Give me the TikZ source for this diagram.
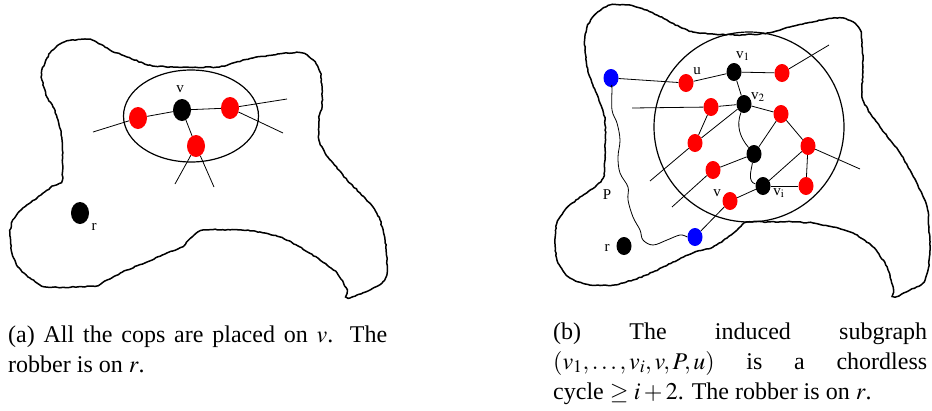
\documentclass[tikz,border=0pt]{standalone}
\usepackage{mathptmx}
\usepackage{fontspec}
\setmainfont{Liberation Serif}
\usetikzlibrary{shapes.geometric, positioning, decorations.pathmorphing}

\begin{document}
\begin{tikzpicture}[
    x=1pt, y=-1pt,
    blob/.style={
        draw=black, line width=1.5pt,
        decorate, decoration={random steps, segment length=2.5pt, amplitude=0.5pt}
    },
    ring/.style={draw=black, line width=1.2pt},
    edge/.style={draw=black, line width=0.8pt},
    cop/.style={ellipse, fill=red, inner sep=0pt, minimum width=18pt, minimum height=22pt},
    rob/.style={ellipse, fill=black, inner sep=0pt, minimum width=18pt, minimum height=22pt},
    copb/.style={cop, minimum width=15pt, minimum height=18pt},
    vtx/.style={rob, minimum width=15pt, minimum height=18pt},
    endpt/.style={ellipse, fill=blue, inner sep=0pt, minimum width=15pt, minimum height=18pt},
    lbl/.style={font=\fontsize{15}{17}\selectfont, inner sep=0pt},
    capt/.style={anchor=base west, inner sep=0pt, align=justify,
        font=\fontsize{24}{30}\selectfont}
]
\pgfmathsetseed{7}
\useasboundingbox (0,0) rectangle (932,410);

%% ── (a) Region ───────────────────────────────────────────────────────────────
\draw[blob] plot[smooth cycle, tension=0.4] coordinates {
    (42,70) (50,53) (62,43) (73,40) (92,40) (110,50) (127,57) (143,63) (153,66)
    (173,67) (217,67) (233,63) (253,58) (273,55) (287,53) (302,53) (313,60)
    (320,72) (322,87) (322,107) (319,117) (319,140) (325,153) (333,163) (347,180)
    (360,193) (373,207) (380,220) (385,240) (387,260) (387,273) (382,283)
    (370,290) (357,295) (348,298) (347,290) (337,273) (320,260) (300,247)
    (280,237) (260,232) (240,230) (203,230) (192,237) (182,247) (167,253)
    (147,262) (127,270) (107,280) (95,286) (47,287) (30,278) (18,267) (12,253)
    (10,233) (13,220) (23,208) (37,198) (50,188) (62,180) (62,140) (58,120)
    (53,107) (47,97) (42,80)};

\draw[ring] (191,116) ellipse [x radius=67.5, y radius=46];

\node[rob] (va)  at (182,110) {};
\node[cop] (ca1) at (138,118) {};
\node[cop] (ca2) at (230,108) {};
\node[cop] (ca3) at (196,146) {};
\node[rob] (ra)  at (80,213)  {};
\node[lbl] (lva) at (180,89)  {v};
\node[lbl] (lra) at (94,227)  {r};

\coordinate (ea1) at (93,132);
\coordinate (ea2) at (287,99);
\coordinate (ea3) at (283,133);
\coordinate (ea4) at (175,184);
\coordinate (ea5) at (214,187);

\draw[edge] (ea1) -- (ca1) -- (va) -- (ca2) -- (ea2);
\draw[edge] (ca2) -- (ea3);
\draw[edge] (va) -- (ca3);
\draw[edge] (ca3) -- (ea4);
\draw[edge] (ca3) -- (ea5);

%% ── (b) Region ───────────────────────────────────────────────────────────────
\draw[blob] plot[smooth cycle, tension=0.4] coordinates {
    (585,37) (587,27) (592,18) (598,12) (610,5) (627,5) (640,8) (653,13)
    (667,20) (680,27) (693,32) (713,34) (737,35) (760,34) (773,32) (790,27)
    (807,23) (827,19) (843,18) (853,22) (860,30) (862,43) (863,67) (862,87)
    (863,100) (870,113) (880,127) (890,140) (900,153) (910,170) (920,190)
    (927,207) (929,227) (930,250) (928,270) (923,283) (910,290) (895,297)
    (893,287) (887,267) (873,247) (853,233) (833,227) (813,223) (793,222)
    (767,222) (747,222) (737,230) (727,238) (713,247) (693,253) (673,262)
    (653,272) (633,280) (613,285) (590,285) (570,278) (558,263) (555,243)
    (557,223) (565,210) (580,197) (595,187) (603,178) (605,160) (605,120)
    (600,103) (592,83) (587,67) (585,50)};

\draw[ring] (749,127) circle [radius=95];

%% vertices
\node[endpt] (b1) at (611,78)  {};
\node[copb]  (u)  at (686,83)  {};
\node[vtx]   (v1) at (734,72)  {};
\node[copb]  (c1) at (782,73)  {};
\node[vtx]   (v2) at (744,104) {};
\node[copb]  (c2) at (711,107) {};
\node[copb]  (c3) at (781,114) {};
\node[copb]  (c4) at (695,143) {};
\node[vtx]   (vm) at (754,154) {};
\node[copb]  (c5) at (808,146) {};
\node[copb]  (c6) at (713,170) {};
\node[vtx]   (vi) at (763,186) {};
\node[copb]  (c7) at (806,186) {};
\node[copb]  (v)  at (730,201) {};
\node[endpt] (b2) at (695,237) {};
\node[vtx]   (rb) at (624,246) {};

%% labels
\node[lbl] (lu)  at (697,71)  {u};
\node[lbl] (lv1) at (743,56)  {v$_{\mathrm{1}}$};
\node[lbl] (lv2) at (758,97)  {v$_{\mathrm{2}}$};
\node[lbl] (lvi) at (779,193) {v$_{\mathrm{i}}$};
\node[lbl] (lv)  at (717,193) {v};
\node[lbl] (lP)  at (607,195) {P};
\node[lbl] (lrb) at (607,248) {r};

%% free ends
\coordinate (eb1) at (829,45);
\coordinate (eb2) at (632,108);
\coordinate (eb3) at (650,181);
\coordinate (eb4) at (860,169);
\coordinate (eb5) at (672,207);

%% edges
\draw[edge] (b1) -- (u) -- (v1) -- (c1) -- (eb1);
\draw[edge] (v1) -- (v2);
\draw[edge] (eb2) -- (c2) -- (v2) -- (c3);
\draw[edge] (c2) -- (c4);
\draw[edge] (v2) -- (c4) -- (eb3);
\draw[edge] (v2) to[out=-110, in=130] (vm);
\draw[edge] (vm) to[out=-100, in=165] (vi);
\draw[edge] (c3) -- (vm);
\draw[edge] (c3) -- (c5) -- (eb4);
\draw[edge] (c5) -- (vi);
\draw[edge] (c5) -- (c7);
\draw[edge] (vi) -- (c7);
\draw[edge] (vm) -- (c6) -- (eb5);
\draw[edge] (vi) -- (v) -- (b2);

%% the path P
\draw[edge] plot[smooth, tension=0.6] coordinates {
    (b2.west) (680,235) (667,240) (653,245) (643,240) (640,230) (633,217)
    (628,200) (628,187) (620,173) (618,157) (620,140) (617,123) (612,110)
    (612,87) (b1.south)};

%% ── Captions ─────────────────────────────────────────────────────────────────
\node[capt, text width=379pt] (capa) at (8,342)
    {(a) All the cops are placed on $v$. The\linebreak robber is on $r$.};
\node[capt, text width=374pt] (capb) at (553,339)
    {(b) The induced subgraph\linebreak $(v_1,\ldots,v_i,v,P,u)$ is a chordless\linebreak
     cycle $\geq i+2$. The robber is on $r$.};

\end{tikzpicture}
\end{document}
